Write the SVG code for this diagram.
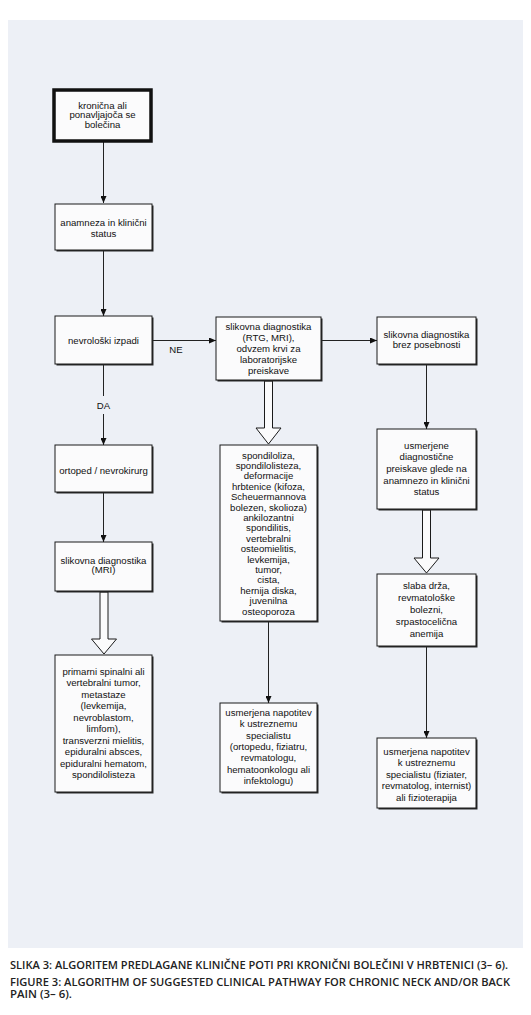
<svg xmlns="http://www.w3.org/2000/svg" width="531" height="1015" viewBox="0 0 531 1015">
<defs>
<marker id="ah" markerWidth="7" markerHeight="6" refX="7" refY="3" orient="auto" markerUnits="userSpaceOnUse">
<path d="M0,0 L7,3 L0,6 Z" fill="#111"/>
</marker>
<style>
.box{fill:#fbfbfc;stroke:#1a1a1a;stroke-width:1}
.sh{fill:#2a2a2a}
.t{font-family:"Liberation Sans",Arial,sans-serif;font-size:9.6px;fill:#111;text-anchor:middle}
.ln{stroke:#222;stroke-width:1;fill:none}
.hol{fill:#fbfbfc;stroke:#1a1a1a;stroke-width:1}
.cap{font-family:"Open Sans","Liberation Sans",sans-serif;font-size:9.8px;font-weight:600;fill:#222}
</style>
</defs>
<rect x="0" y="0" width="531" height="1015" fill="#ffffff"/>
<rect x="8" y="20" width="515" height="928" fill="#edf0f6"/>

<g id="connectors">
<line class="ln" x1="103.5" y1="141" x2="103.5" y2="203" marker-end="url(#ah)"/>
<line class="ln" x1="103.5" y1="250" x2="103.5" y2="316" marker-end="url(#ah)"/>
<line class="ln" x1="152" y1="340.5" x2="216" y2="340.5" marker-end="url(#ah)"/>
<text class="t" x="176" y="352.5">NE</text>
<line class="ln" x1="103.5" y1="364" x2="103.5" y2="396"/>
<line class="ln" x1="103.5" y1="414" x2="103.5" y2="445" marker-end="url(#ah)"/>
<text class="t" x="103.5" y="408.5">DA</text>
<line class="ln" x1="103.5" y1="492" x2="103.5" y2="542" marker-end="url(#ah)"/>
<polygon class="hol" points="100,592 108,592 108,639 116.5,639 104,654 91.5,639 100,639"/>
<line class="ln" x1="321" y1="340.5" x2="377" y2="340.5" marker-end="url(#ah)"/>
<polygon class="hol" points="264.5,381 272.5,381 272.5,428 281,428 268.5,444 256,428 264.5,428"/>
<line class="ln" x1="268.5" y1="622" x2="268.5" y2="703" marker-end="url(#ah)"/>
<line class="ln" x1="426.5" y1="364" x2="426.5" y2="429" marker-end="url(#ah)"/>
<polygon class="hol" points="422.5,510 430.5,510 430.5,558 439,558 426.5,573 414,558 422.5,558"/>
<line class="ln" x1="426.5" y1="647" x2="426.5" y2="738" marker-end="url(#ah)"/>
</g>

<g id="n1">
<rect x="54" y="90" width="97" height="51" fill="#fbfbfc" stroke="#111" stroke-width="3.5"/>
<text class="t" x="102.5" y="108.5">kronična ali</text>
<text class="t" x="102.5" y="118.2">ponavljajoča se</text>
<text class="t" x="102.5" y="127.9">bolečina</text>
</g>

<g id="n2">
<rect class="sh" x="56.5" y="205.5" width="97" height="46"/>
<rect class="box" x="55" y="204" width="97" height="46"/>
<text class="t" x="103.5" y="226">anamneza in klinični</text>
<text class="t" x="103.5" y="236.6">status</text>
</g>

<g id="n3">
<rect class="sh" x="56.5" y="317.5" width="97" height="48"/>
<rect class="box" x="55" y="316" width="97" height="48"/>
<text class="t" x="103.5" y="343.5">nevrološki izpadi</text>
</g>

<g id="n4">
<rect class="sh" x="217.5" y="318.5" width="105" height="63"/>
<rect class="box" x="216" y="317" width="105" height="63"/>
<text class="t" x="268.5" y="329.5">slikovna diagnostika</text>
<text class="t" x="268.5" y="340.5">(RTG, MRI),</text>
<text class="t" x="268.5" y="351.5">odvzem krvi za</text>
<text class="t" x="268.5" y="362.5">laboratorijske</text>
<text class="t" x="268.5" y="373.5">preiskave</text>
</g>

<g id="n5">
<rect class="sh" x="378.5" y="318.5" width="99" height="47"/>
<rect class="box" x="377" y="317" width="99" height="47"/>
<text class="t" x="426.5" y="337.5">slikovna diagnostika</text>
<text class="t" x="426.5" y="347.5">brez posebnosti</text>
</g>

<g id="n6">
<rect class="sh" x="56.5" y="446.5" width="97" height="47"/>
<rect class="box" x="55" y="445" width="97" height="47"/>
<text class="t" x="103.5" y="473.5">ortoped / nevrokirurg</text>
</g>

<g id="n7">
<rect class="sh" x="56.5" y="543.5" width="97" height="49"/>
<rect class="box" x="55" y="542" width="97" height="49"/>
<text class="t" x="103.5" y="563.5">slikovna diagnostika</text>
<text class="t" x="103.5" y="573">(MRI)</text>
</g>

<g id="n8">
<rect class="sh" x="56.5" y="656.5" width="97" height="137"/>
<rect class="box" x="55" y="655" width="97" height="137"/>
<text class="t" x="103.5" y="674.5">primarni spinalni ali</text>
<text class="t" x="103.5" y="686">vertebralni tumor,</text>
<text class="t" x="103.5" y="697.5">metastaze</text>
<text class="t" x="103.5" y="709">(levkemija,</text>
<text class="t" x="103.5" y="720.5">nevroblastom,</text>
<text class="t" x="103.5" y="732">limfom),</text>
<text class="t" x="103.5" y="743.5">transverzni mielitis,</text>
<text class="t" x="103.5" y="755">epiduralni absces,</text>
<text class="t" x="103.5" y="766.5">epiduralni hematom,</text>
<text class="t" x="103.5" y="778">spondilolisteza</text>
</g>

<g id="n9">
<rect class="sh" x="221.5" y="446.5" width="97" height="176"/>
<rect class="box" x="220" y="445" width="97" height="176"/>
<text class="t" x="268.5" y="458.5">spondiloliza,</text>
<text class="t" x="268.5" y="468.9">spondilolisteza,</text>
<text class="t" x="268.5" y="479.3">deformacije</text>
<text class="t" x="268.5" y="489.7">hrbtenice (kifoza,</text>
<text class="t" x="268.5" y="500.1">Scheuermannova</text>
<text class="t" x="268.5" y="510.5">bolezen, skolioza)</text>
<text class="t" x="268.5" y="520.9">ankilozantni</text>
<text class="t" x="268.5" y="531.3">spondilitis,</text>
<text class="t" x="268.5" y="541.7">vertebralni</text>
<text class="t" x="268.5" y="552.1">osteomielitis,</text>
<text class="t" x="268.5" y="562.5">levkemija,</text>
<text class="t" x="268.5" y="572.9">tumor,</text>
<text class="t" x="268.5" y="583.3">cista,</text>
<text class="t" x="268.5" y="593.7">hernija diska,</text>
<text class="t" x="268.5" y="604.1">juvenilna</text>
<text class="t" x="268.5" y="614.5">osteoporoza</text>
</g>

<g id="n10">
<rect class="sh" x="221.5" y="704.5" width="97" height="89"/>
<rect class="box" x="220" y="703" width="97" height="89"/>
<text class="t" x="268.5" y="716">usmerjena napotitev</text>
<text class="t" x="268.5" y="727.3">k ustreznemu</text>
<text class="t" x="268.5" y="738.6">specialistu</text>
<text class="t" x="268.5" y="749.9">(ortopedu, fiziatru,</text>
<text class="t" x="268.5" y="761.2">revmatologu,</text>
<text class="t" x="268.5" y="772.5">hematoonkologu ali</text>
<text class="t" x="268.5" y="783.8">infektologu)</text>
</g>

<g id="n11">
<rect class="sh" x="378.5" y="430.5" width="99" height="80"/>
<rect class="box" x="377" y="429" width="99" height="80"/>
<text class="t" x="426.5" y="448.5">usmerjene</text>
<text class="t" x="426.5" y="460.2">diagnostične</text>
<text class="t" x="426.5" y="471.9">preiskave glede na</text>
<text class="t" x="426.5" y="483.6">anamnezo in klinični</text>
<text class="t" x="426.5" y="495.3">status</text>
</g>

<g id="n12">
<rect class="sh" x="378.5" y="575.5" width="99" height="72"/>
<rect class="box" x="377" y="574" width="99" height="72"/>
<text class="t" x="426.5" y="589">slaba drža,</text>
<text class="t" x="426.5" y="600.9">revmatološke</text>
<text class="t" x="426.5" y="612.8">bolezni,</text>
<text class="t" x="426.5" y="624.7">srpastocelična</text>
<text class="t" x="426.5" y="636.6">anemija</text>
</g>

<g id="n13">
<rect class="sh" x="378.5" y="739.5" width="99" height="70"/>
<rect class="box" x="377" y="738" width="99" height="70"/>
<text class="t" x="426.5" y="754.5">usmerjena napotitev</text>
<text class="t" x="426.5" y="766">k ustreznemu</text>
<text class="t" x="426.5" y="777.5">specialistu (fiziater,</text>
<text class="t" x="426.5" y="789">revmatolog, internist)</text>
<text class="t" x="426.5" y="800.5">ali fizioterapija</text>
</g>

<g id="caption">
<text class="cap" x="10" y="969" textLength="498" lengthAdjust="spacingAndGlyphs">SLIKA 3: ALGORITEM PREDLAGANE KLINIČNE POTI PRI KRONIČNI BOLEČINI V HRBTENICI (3– 6).</text>
<text class="cap" x="10" y="985.5" textLength="500" lengthAdjust="spacingAndGlyphs">FIGURE 3: ALGORITHM OF SUGGESTED CLINICAL PATHWAY FOR CHRONIC NECK AND/OR BACK</text>
<text class="cap" x="10" y="998" textLength="62" lengthAdjust="spacingAndGlyphs">PAIN (3– 6).</text>
</g>
</svg>
